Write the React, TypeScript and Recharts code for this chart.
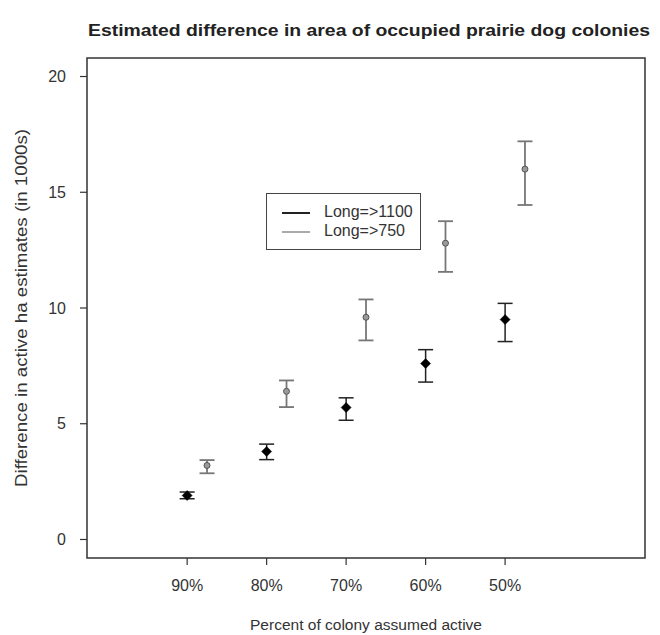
import React from 'react';
import { ComposedChart, Scatter, XAxis, YAxis, ErrorBar, ReferenceArea, Legend } from 'recharts';

const categories = ['90%', '80%', '70%', '60%', '50%'];
const catIndex = [1, 2, 3, 4, 5];

const long1100 = [1.9, 3.8, 5.7, 7.6, 9.5];
const long1100Low = [1.76, 3.45, 5.15, 6.8, 8.55];
const long1100High = [2.05, 4.12, 6.12, 8.2, 10.2];

const long750 = [3.2, 6.4, 9.6, 12.8, 16.0];
const long750Low = [2.86, 5.72, 8.6, 11.56, 14.45];
const long750High = [3.43, 6.87, 10.37, 13.75, 17.2];

const yTicks = [0, 5, 10, 15, 20];

const DODGE = 0.25;

const blackData = catIndex.map((c, i) => ({
  x: c,
  y: long1100[i],
  err: [long1100[i] - long1100Low[i], long1100High[i] - long1100[i]],
}));
const grayData = catIndex.map((c, i) => ({
  x: c + DODGE,
  y: long750[i],
  err: [long750[i] - long750Low[i], long750High[i] - long750[i]],
}));

const FONT = '"Liberation Sans", Arial, Helvetica, sans-serif';

const Diamond = (props: any) => {
  const { cx, cy } = props;
  const r = 5;
  return <path d={`M${cx},${cy - r}L${cx + r},${cy}L${cx},${cy + r}L${cx - r},${cy}Z`} fill="#000" stroke="#000" strokeWidth={0.5} />;
};
const Dot = (props: any) => {
  const { cx, cy } = props;
  return <circle cx={cx} cy={cy} r={3} fill="#9a9a9a" stroke="#555" strokeWidth={1} />;
};

const XTitle = (props: any) => {
  const vb = props.viewBox || {};
  return (
    <text x={vb.x + vb.width / 2} y={vb.y + 72} textAnchor="middle" fontSize={15.5} fill="#333" fontFamily={FONT} textLength={232} lengthAdjust="spacingAndGlyphs">
      Percent of colony assumed active
    </text>
  );
};
const YTitle = (props: any) => {
  const vb = props.viewBox || {};
  const cx = 27;
  const cy = vb.y + vb.height / 2;
  return (
    <text x={cx} y={cy} transform={`rotate(-90, ${cx}, ${cy})`} textAnchor="middle" fontSize={16} fill="#333" fontFamily={FONT} textLength={358} lengthAdjust="spacingAndGlyphs">
      Difference in active ha estimates (in 1000s)
    </text>
  );
};

const LegendBox = () => (
  <div style={{ border: '1.5px solid #444', width: 153, height: 55, boxSizing: 'content-box', fontFamily: FONT, fontSize: 16, color: '#333', position: 'relative' }}>
    <div style={{ position: 'absolute', left: 15, top: 18, width: 28, height: 2, background: '#222' }} />
    <div style={{ position: 'absolute', left: 57, top: 9, lineHeight: '18px' }}>Long=&gt;1100</div>
    <div style={{ position: 'absolute', left: 15, top: 37, width: 28, height: 2, background: '#aaa' }} />
    <div style={{ position: 'absolute', left: 57, top: 28, lineHeight: '18px' }}>Long=&gt;750</div>
  </div>
);

export default function App() {
  return (
    <div style={{ position: 'absolute', left: 0, top: 0, width: 660, height: 635, background: '#fff' }}>
      <svg width={660} height={50} style={{ position: 'absolute', left: 0, top: 0 }}>
        <text x={369} y={36} textAnchor="middle" fontFamily={FONT} fontWeight="bold" fontSize={17} fill="#222" textLength={562} lengthAdjust="spacingAndGlyphs">
          Estimated difference in area of occupied prairie dog colonies
        </text>
      </svg>
      <ComposedChart width={660} height={635} margin={{ top: 58, right: 15, bottom: 0, left: 0 }} style={{ fontFamily: FONT, position: 'absolute', left: 0, top: 0 }}>
        <XAxis
          type="number"
          dataKey="x"
          domain={[-0.26, 6.76]}
          allowDataOverflow
          ticks={catIndex}
          tickFormatter={(v: number) => categories[v - 1] ?? ''}
          height={77}
          tickSize={7}
          tickMargin={15}
          axisLine={false}
          tickLine={{ stroke: '#333', strokeWidth: 1.2 }}
          tick={{ fill: '#333', fontSize: 16, fontFamily: FONT }}
          interval={0}
          label={<XTitle />}
        />
        <YAxis
          type="number"
          dataKey="y"
          domain={[-0.8, 20.8]}
          allowDataOverflow
          ticks={yTicks}
          width={87}
          tickSize={7}
          tickMargin={14}
          axisLine={false}
          tickLine={{ stroke: '#333', strokeWidth: 1.2 }}
          tick={{ fill: '#333', fontSize: 16, fontFamily: FONT }}
          interval={0}
          label={<YTitle />}
        />
        <ReferenceArea x1={-0.26} x2={6.76} y1={-0.8} y2={20.8} fill="none" stroke="#333" strokeWidth={1.5} ifOverflow="visible" />
        <Scatter name="Long=>1100" data={blackData} dataKey="y" shape={<Diamond />} isAnimationActive={false}>
          <ErrorBar dataKey="err" direction="y" width={7.5} stroke="#222" strokeWidth={1.5} isAnimationActive={false} />
        </Scatter>
        <Scatter name="Long=>750" data={grayData} dataKey="y" shape={<Dot />} isAnimationActive={false}>
          <ErrorBar dataKey="err" direction="y" width={7.5} stroke="#777" strokeWidth={1.8} isAnimationActive={false} />
        </Scatter>
        <Legend
          layout="horizontal"
          verticalAlign="middle"
          align="center"
          content={<LegendBox />}
          wrapperStyle={{ left: 266, top: 193, width: 156, height: 58 }}
        />
      </ComposedChart>
    </div>
  );
}
